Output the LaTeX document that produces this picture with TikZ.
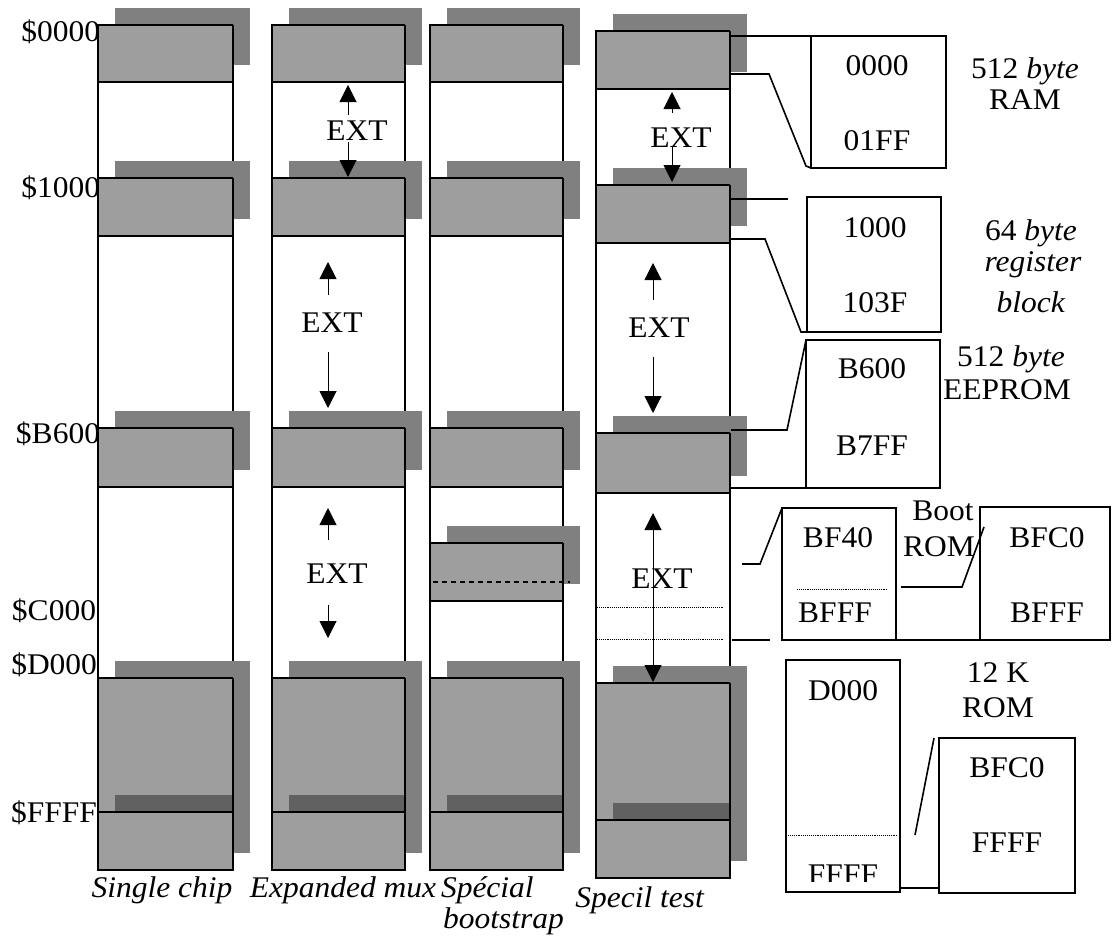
\documentclass[tikz,border=0pt]{standalone}
\usepackage{fontspec}
\setmainfont{Liberation Serif}[FakeStretch=1.05]
\usetikzlibrary{arrows.meta}
\definecolor{frontc}{gray}{0.62}
\definecolor{shadowc}{gray}{0.50}
\definecolor{darkc}{gray}{0.38}
\newcommand{\memblk}[4]{%
  \fill[shadowc] ({#1+17},{#2-17}) rectangle ({#3+17},{#4-17});
  \fill[frontc] (#1,#2) rectangle (#3,#4);
  \draw[sideline] (#1,#2) -- (#1,#4) (#3,#2) -- (#3,#4);
  \draw[blkedge] (#1,#2) -- (#3,#2) (#1,#4) -- (#3,#4);}
\newcommand{\botblk}[5]{%
  \fill[shadowc] ({#1+17},{#2-17}) rectangle ({#3+17},{#5-17});
  \fill[frontc] (#1,#2) rectangle (#3,#5);
  \fill[darkc] ({#1+17},{#4-17}) rectangle (#3,#4);
  \draw[sideline] (#1,#2) -- (#1,#5) (#3,#2) -- (#3,#5);
  \draw[line width=1.6pt] (#1,#2) -- (#3,#2);
  \draw[blkedge] (#1,#4) -- (#3,#4) (#1,#5) -- (#3,#5);}
\begin{document}
\begin{tikzpicture}[x=1pt,y=-1pt,
  every node/.style={font=\fontsize{30}{33}\selectfont, inner sep=0pt, outer sep=0pt},
  sideline/.style={line width=1.2pt},
  blkedge/.style={line width=2.4pt},
  colrect/.style={line width=1.2pt},
  conn/.style={line width=1.6pt},
  boxnode/.style={draw, line width=1.4pt, rectangle},
  dotline/.style={line width=0.9pt, densely dotted},
  extarr/.style={line width=1pt, -{Triangle[length=17pt,width=17pt]}},
  extboth/.style={line width=1pt, {Triangle[length=17pt,width=17pt]}-{Triangle[length=17pt,width=17pt]}}]
\useasboundingbox (0,0) rectangle (1113,942);

% ---------- column outlines ----------
\draw[colrect] (98,25) rectangle (233,870);
\draw[colrect] (272,25) rectangle (405,870);
\draw[colrect] (430,25) rectangle (563,870);
\draw[colrect] (596,31) rectangle (730,878);

% ---------- column 1: single chip ----------
\memblk{98}{25}{233}{82}
\memblk{98}{178}{233}{236}
\memblk{98}{428}{233}{487}
\botblk{98}{678}{233}{812}{870}

% ---------- column 2: expanded mux ----------
\memblk{272}{25}{405}{82}
\memblk{272}{178}{405}{236}
\memblk{272}{428}{405}{487}
\botblk{272}{678}{405}{812}{870}

% ---------- column 3: special bootstrap ----------
\memblk{430}{25}{563}{82}
\memblk{430}{178}{563}{236}
\memblk{430}{428}{563}{487}
\memblk{430}{543}{563}{601}
\draw[line width=1.6pt, dash pattern=on 5pt off 4pt] (433,582) -- (570,582);
\botblk{430}{678}{563}{812}{870}

% ---------- column 4: special test ----------
\memblk{596}{31}{730}{89}
\memblk{596}{185}{730}{243}
\memblk{596}{433}{730}{493}
\botblk{596}{683}{730}{820}{878}
\draw[dotline] (597,607) -- (723,607);
\draw[dotline] (597,639) -- (723,639);

% ---------- address labels ----------
\node[anchor=base east] (a0) at (100,42) {\$0000};
\node[anchor=base east] (a1) at (100,197) {\$1000};
\node[anchor=base east] (a2) at (100,443) {\$B600};
\node[anchor=base east] (a3) at (96,620) {\$C000};
\node[anchor=base east] (a4) at (97,674) {\$D000};
\node[anchor=base east] (a5) at (97,822) {\$FFFF};

% ---------- EXT arrows ----------
\coordinate (p1a) at (348,115); \coordinate (p1b) at (348,85);
\coordinate (p1c) at (348,142); \coordinate (p1d) at (348,177);
\draw[extarr] (p1a) -- (p1b); \draw[extarr] (p1c) -- (p1d);
\node[anchor=base] (ext1) at (357,140) {EXT};

\coordinate (p2a) at (328,295); \coordinate (p2b) at (328,262);
\coordinate (p2c) at (328,352); \coordinate (p2d) at (328,408);
\draw[extarr] (p2a) -- (p2b); \draw[extarr] (p2c) -- (p2d);
\node[anchor=base] (ext2) at (332,332) {EXT};

\coordinate (p3a) at (328,540); \coordinate (p3b) at (328,508);
\coordinate (p3c) at (328,605); \coordinate (p3d) at (328,638);
\draw[extarr] (p3a) -- (p3b); \draw[extarr] (p3c) -- (p3d);
\node[anchor=base] (ext3) at (337,583) {EXT};

\coordinate (q1a) at (672,113); \coordinate (q1b) at (672,92);
\coordinate (q1c) at (672,147); \coordinate (q1d) at (672,182);
\draw[extarr] (q1a) -- (q1b); \draw[extarr] (q1c) -- (q1d);
\node[anchor=base] (ext4) at (681,147) {EXT};

\coordinate (q2a) at (653,300); \coordinate (q2b) at (653,263);
\coordinate (q2c) at (653,357); \coordinate (q2d) at (653,413);
\draw[extarr] (q2a) -- (q2b); \draw[extarr] (q2c) -- (q2d);
\node[anchor=base] (ext5) at (659,337) {EXT};

\coordinate (q3a) at (653,513); \coordinate (q3b) at (653,682);
\draw[extboth] (q3a) -- (q3b);
\node[anchor=base] (ext6) at (662,588) {EXT};

% ---------- detail boxes ----------
\node[boxnode, minimum width=135pt, minimum height=132pt] (ram) at (878.5,102) {};
\node[boxnode, minimum width=134pt, minimum height=135pt] (reg) at (874,264.5) {};
\node[boxnode, minimum width=134pt, minimum height=148pt] (eep) at (873,414) {};
\node[boxnode, minimum width=114pt, minimum height=132pt] (bf40) at (839,574) {};
\node[boxnode, minimum width=130pt, minimum height=133pt] (bfc0) at (1045,573.5) {};
\node[boxnode, minimum width=114pt, minimum height=232pt] (rom) at (843,776) {};
\node[boxnode, minimum width=136pt, minimum height=155pt] (bfc0b) at (1007,815.5) {};

\draw[dotline] (797,589) -- (887,589);
\draw[dotline] (788,835) -- (898,835);

% box texts
\node[anchor=base] (t1) at (877,75) {0000};
\node[anchor=base] (t2) at (877,150) {01FF};
\node[anchor=base] (t3) at (875,237) {1000};
\node[anchor=base] (t4) at (875,312) {103F};
\node[anchor=base] (t5) at (872,378) {B600};
\node[anchor=base] (t6) at (872,455) {B7FF};
\node[anchor=base] (t7) at (838,547) {BF40};
\node[anchor=base] (t8) at (835,622) {BFFF};
\node[anchor=base] (t9) at (1047,547) {BFC0};
\node[anchor=base] (t10) at (1047,622) {BFFF};
\node[anchor=base] (t11) at (843,700) {D000};
\begin{scope}
  \clip (788,850) rectangle (898,881);
  \node[anchor=base] (t12) at (843,884) {FFFF};
\end{scope}
\node[anchor=base] (t13) at (1007,777) {BFC0};
\node[anchor=base] (t14) at (1007,852) {FFFF};

% side labels
\node[anchor=base] (l1) at (1025,78) {512 \textit{byte}};
\node[anchor=base] (l2) at (1025,109) {RAM};
\node[anchor=base] (l3) at (1031,240) {64 \textit{byte}};
\node[anchor=base] (l4) at (1033,271) {\textit{register}};
\node[anchor=base] (l5) at (1031,312) {\textit{block}};
\node[anchor=base] (l6) at (1011,366) {512 \textit{byte}};
\node[anchor=base west] (l7) at (943,399) {EEPROM};
\node[anchor=base] (l8) at (943,520) {Boot};
\node[anchor=base] (l9) at (939,556) {ROM};
\node[anchor=base] (l10) at (998,682) {12 K};
\node[anchor=base] (l11) at (998,717) {ROM};

% ---------- connectors ----------
\coordinate (c1) at (731,36);
\draw[conn] (c1) -- (ram.north west);
\coordinate (c2) at (731,74);
\draw[conn] (c2) -- (769,74) -- (806,166) -- (ram.south west);
\coordinate (c3) at (731,199); \coordinate (c3e) at (788,199);
\draw[conn] (c3) -- (c3e);
\coordinate (c4) at (731,239);
\draw[conn] (c4) -- (765,239) -- (801,332) -- (reg.south west);
\coordinate (c5) at (731,430);
\draw[conn] (c5) -- (787,430) -- (eep.north west);
\coordinate (c6) at (731,488);
\draw[conn] (c6) -- (eep.south west);
\coordinate (c7) at (742,564);
\draw[conn] (c7) -- (760,564) -- (bf40.north west);
\coordinate (c8) at (732,640); \coordinate (c8e) at (770,640);
\draw[conn] (c8) -- (c8e);
\draw[conn] (bf40.south east) -- (bfc0.south west);
\coordinate (c9) at (901,587); \coordinate (c9e) at (984,527);
\draw[conn] (c9) -- (962,587) -- (c9e);
\coordinate (c10) at (915,835); \coordinate (c10e) at (934,738);
\draw[conn] (c10) -- (c10e);
\coordinate (c11) at (900,888); \coordinate (c11e) at (939,888);
\draw[conn] (c11) -- (c11e);

% ---------- column titles ----------
\node[anchor=base] (n1) at (162,897) {\textit{Single chip}};
\node[anchor=base] (n2) at (343,897) {\textit{Expanded mux}};
\node[anchor=base west] (n3) at (441,897) {\textit{Spécial}};
\node[anchor=base west] (n4) at (443,928) {\textit{bootstrap}};
\node[anchor=base] (n5) at (640,907) {\textit{Specil test}};
\end{tikzpicture}
\end{document}
